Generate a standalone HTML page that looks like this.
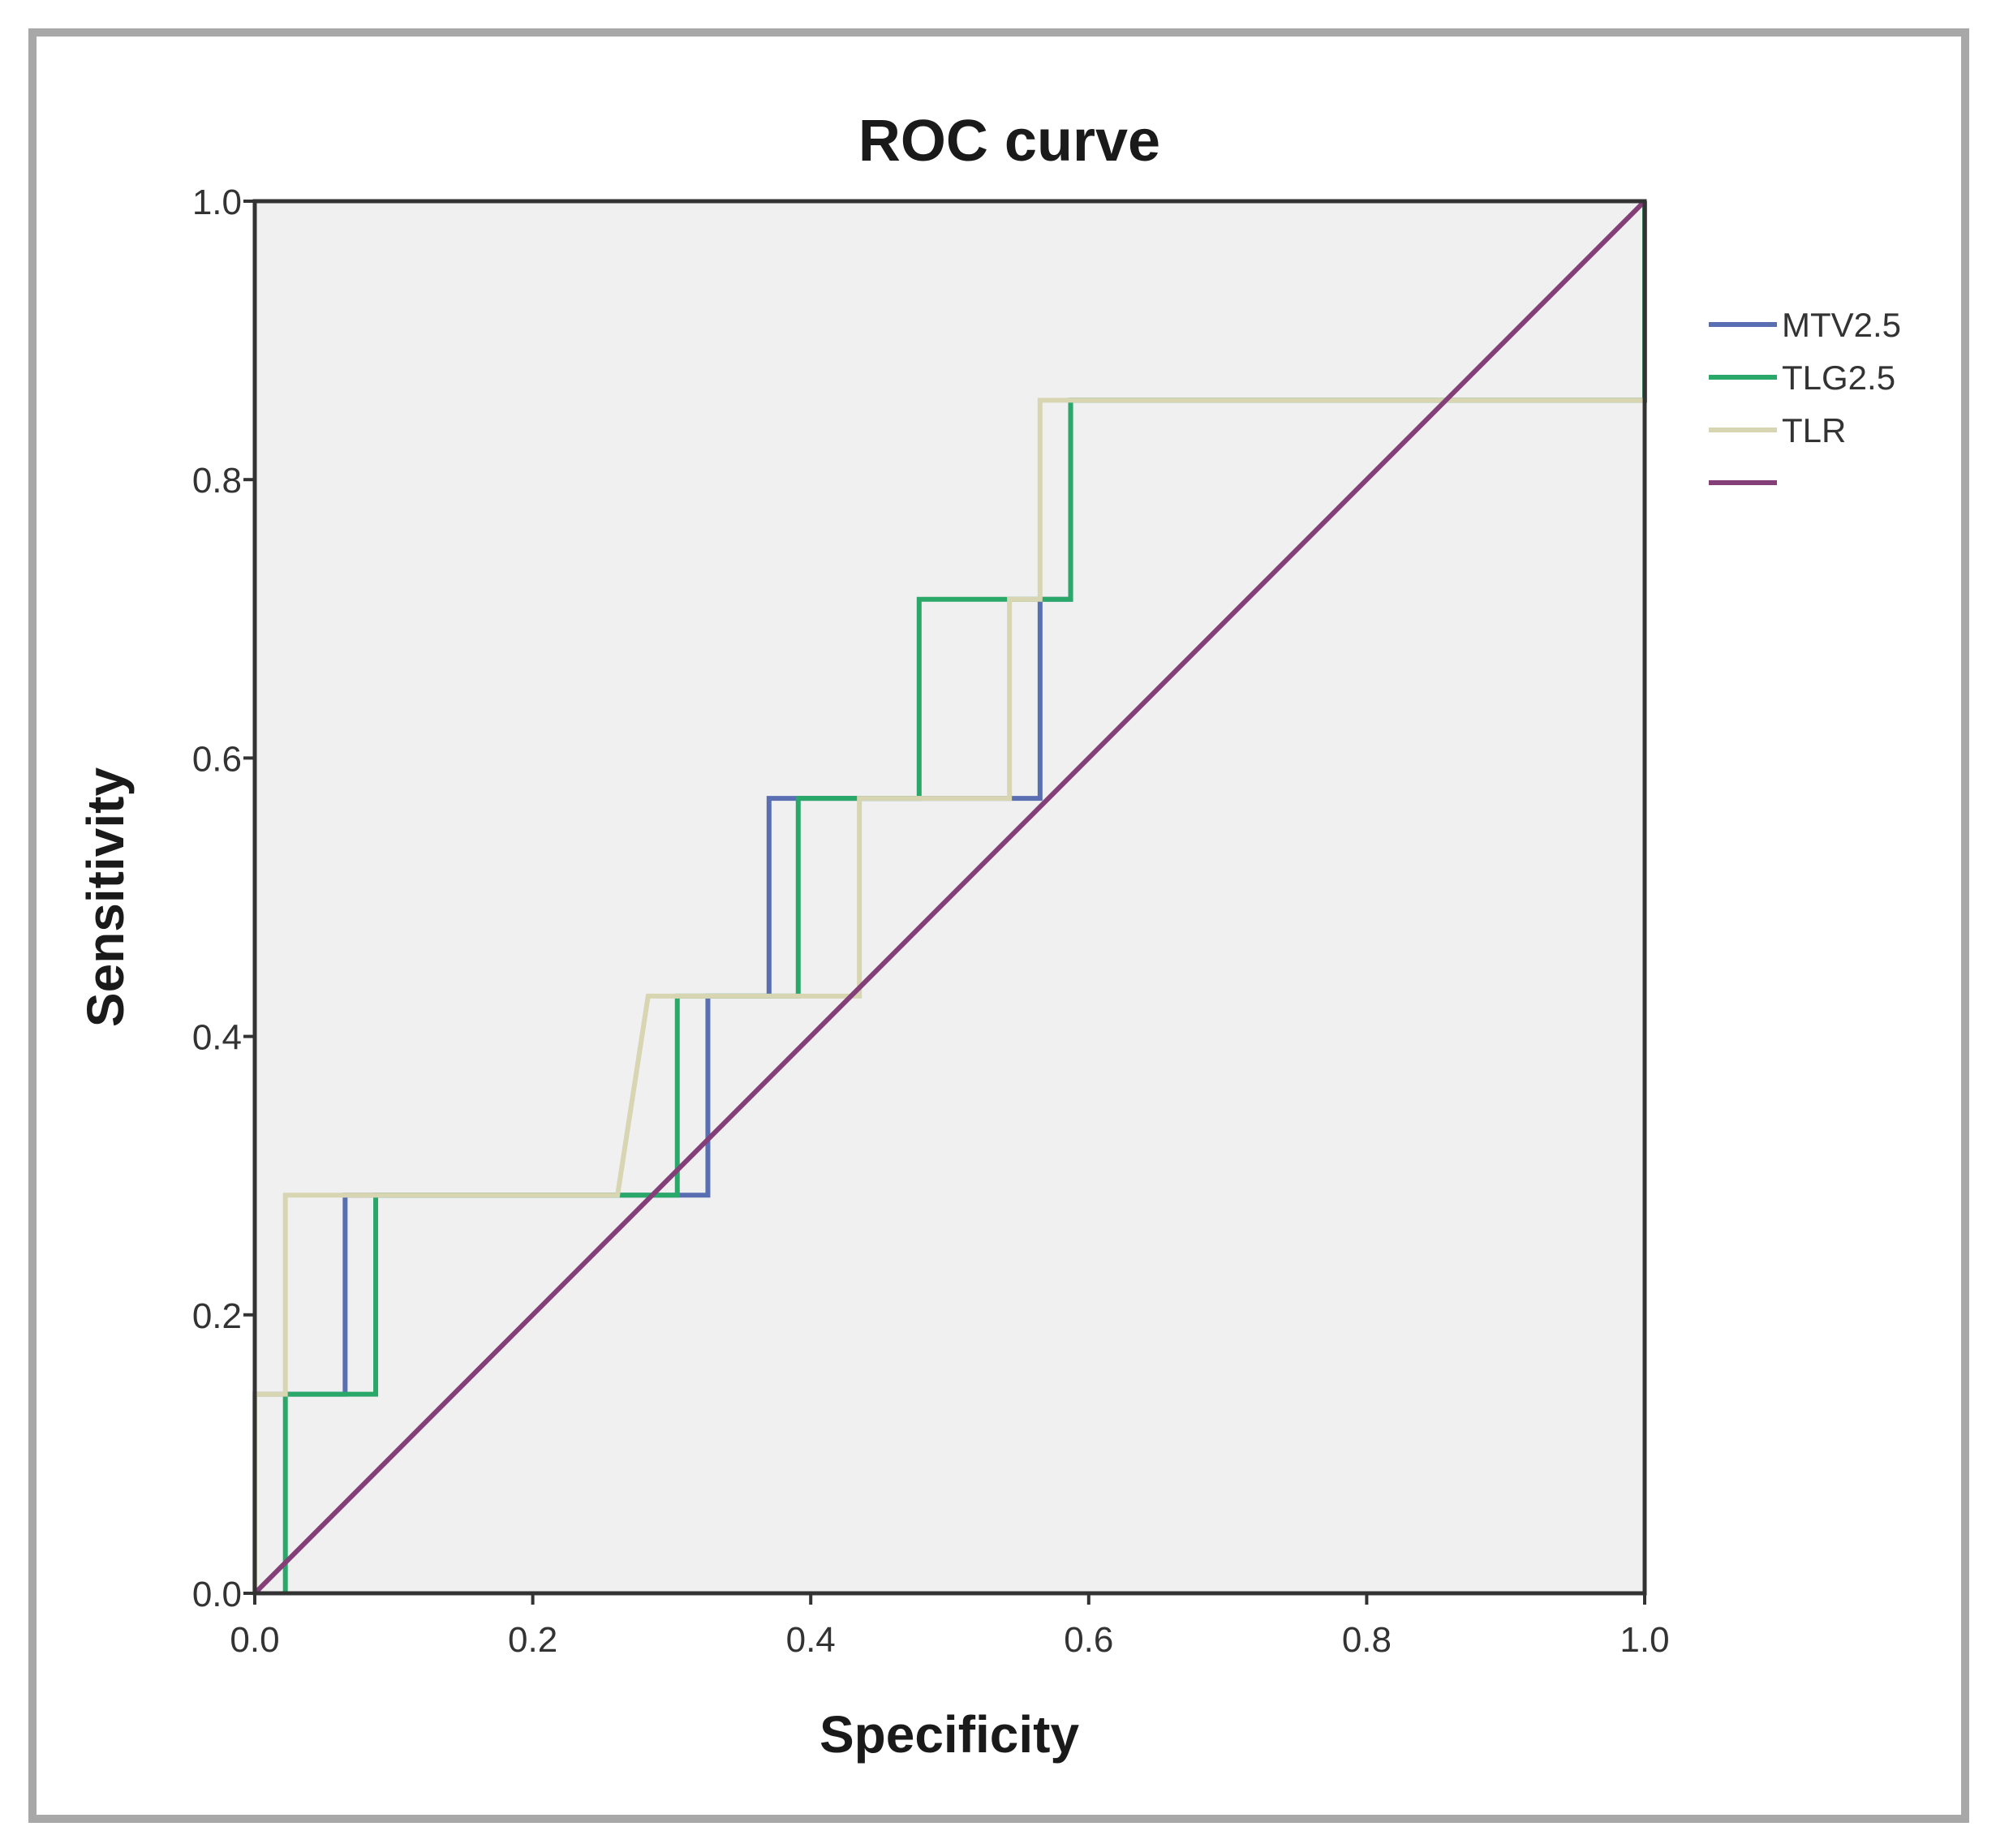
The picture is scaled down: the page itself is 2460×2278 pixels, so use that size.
<!DOCTYPE html>
<html><head><meta charset="utf-8"><style>
html,body{margin:0;padding:0;background:#fff;}
svg{display:block;font-family:"Liberation Sans",Arial,sans-serif;}
</style></head><body>
<svg id="chart" width="2460" height="2278" viewBox="0 0 2460 2278" xmlns="http://www.w3.org/2000/svg">
<rect x="40" y="40" width="2382" height="2202" fill="#fff" stroke="#a8a8a8" stroke-width="10"/>
<text x="1244" y="198" text-anchor="middle" font-size="72" font-weight="bold" fill="#1a1a1a">ROC curve</text>
<rect x="314" y="248" width="1713" height="1716" fill="#f0f0f0"/>
<g id="marks"></g>
<rect x="314" y="248" width="1713" height="1716" fill="none" stroke="#333" stroke-width="5"/>
<g id="axes"></g>
<text x="1170" y="2160" text-anchor="middle" font-size="64" font-weight="bold" fill="#1a1a1a">Specificity</text>
<text transform="translate(152,1106) rotate(-90)" text-anchor="middle" font-size="64" font-weight="bold" fill="#1a1a1a">Sensitivity</text>
<g id="legend"></g>
</svg>
<script>
const ticks = [0, 0.2, 0.4, 0.6, 0.8, 1.0];
const tickLabels = ["0.0", "0.2", "0.4", "0.6", "0.8", "1.0"];
const seriesNames = ["MTV2.5", "TLG2.5", "TLR", ""];
const mtvX = [0, 0, 0.065, 0.065, 0.326, 0.326, 0.370, 0.370, 0.565, 0.565, 0.587, 0.587, 1, 1];
const mtvY = [0, 0.143, 0.143, 0.286, 0.286, 0.429, 0.429, 0.571, 0.571, 0.714, 0.714, 0.857, 0.857, 1];
const tlgX = [0.022, 0.022, 0.087, 0.087, 0.304, 0.304, 0.391, 0.391, 0.478, 0.478, 0.587, 0.587, 1, 1];
const tlgY = [0, 0.143, 0.143, 0.286, 0.286, 0.429, 0.429, 0.571, 0.571, 0.714, 0.714, 0.857, 0.857, 1];
const tlrX = [0, 0, 0.022, 0.022, 0.261, 0.283, 0.435, 0.435, 0.543, 0.543, 0.565, 0.565, 1];
const tlrY = [0, 0.143, 0.143, 0.286, 0.286, 0.429, 0.429, 0.571, 0.571, 0.714, 0.714, 0.857, 0.857];
const refX = [0, 1];
const refY = [0, 1];

const NS = "http://www.w3.org/2000/svg";
const X0 = 314, X1 = 2027, Y0 = 1964, Y1 = 248;
function sx(v){ return X0 + v * (X1 - X0); }
function sy(v){ return Y0 - v * (Y0 - Y1); }

const marks = document.getElementById('marks');
function drawSeries(xs, ys, color, name){
  const p = document.createElementNS(NS, 'polyline');
  p.setAttribute('points', xs.map((x, i) => sx(x) + ',' + sy(ys[i])).join(' '));
  p.setAttribute('fill', 'none');
  p.setAttribute('stroke', color);
  p.setAttribute('stroke-width', '6');
  
  
  marks.appendChild(p);
}
const colors = ["#5a6fb2", "#2aa86a", "#d8d5b2", "#843f78"];
drawSeries(mtvX, mtvY, colors[0], 'mtv-curve');
drawSeries(tlgX, tlgY, colors[1], 'tlg-curve');
drawSeries(tlrX, tlrY, colors[2], 'tlr-curve');
drawSeries(refX, refY, colors[3], 'reference-line');

const axes = document.getElementById('axes');
ticks.forEach((t, i) => {
  const lx = document.createElementNS(NS, 'line');
  lx.setAttribute('x1', sx(t)); lx.setAttribute('x2', sx(t));
  lx.setAttribute('y1', Y0); lx.setAttribute('y2', Y0 + 14);
  lx.setAttribute('stroke', '#333'); lx.setAttribute('stroke-width', '4');
  
  
  axes.appendChild(lx);
  const tx = document.createElementNS(NS, 'text');
  tx.setAttribute('x', sx(t)); tx.setAttribute('y', Y0 + 72);
  tx.setAttribute('text-anchor', 'middle'); tx.setAttribute('font-size', '44'); tx.setAttribute('fill', '#333');
  tx.textContent = tickLabels[i];
  
  
  axes.appendChild(tx);
  const ly = document.createElementNS(NS, 'line');
  ly.setAttribute('x1', X0 - 14); ly.setAttribute('x2', X0);
  ly.setAttribute('y1', sy(t)); ly.setAttribute('y2', sy(t));
  ly.setAttribute('stroke', '#333'); ly.setAttribute('stroke-width', '4');
  
  
  axes.appendChild(ly);
  const ty = document.createElementNS(NS, 'text');
  ty.setAttribute('x', X0 - 16); ty.setAttribute('y', sy(t) + 16);
  ty.setAttribute('text-anchor', 'end'); ty.setAttribute('font-size', '44'); ty.setAttribute('fill', '#333');
  ty.textContent = tickLabels[i];
  
  
  axes.appendChild(ty);
});

const legend = document.getElementById('legend');
seriesNames.forEach((n, i) => {
  const y = 400 + i * 65;
  const l = document.createElementNS(NS, 'line');
  l.setAttribute('x1', 2106); l.setAttribute('x2', 2190);
  l.setAttribute('y1', y); l.setAttribute('y2', y);
  l.setAttribute('stroke', colors[i]); l.setAttribute('stroke-width', '6');
  
  
  legend.appendChild(l);
  const t = document.createElementNS(NS, 'text');
  t.setAttribute('x', 2196); t.setAttribute('y', y + 15);
  t.setAttribute('font-size', '42'); t.setAttribute('fill', '#333');
  t.textContent = n;
  
  
  legend.appendChild(t);
});
</script>
</body></html>
